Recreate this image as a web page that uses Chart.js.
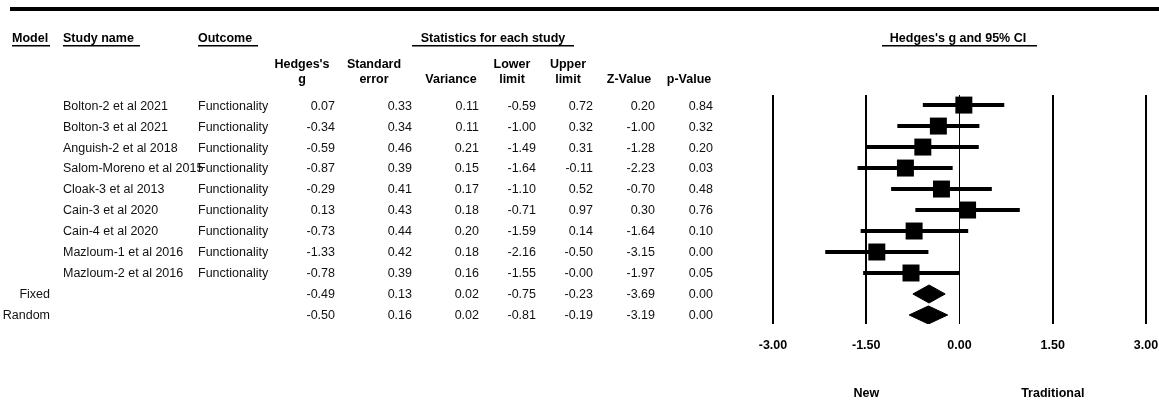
<!DOCTYPE html>
<html>
<head>
<meta charset="utf-8">
<script src="https://cdn.jsdelivr.net/npm/chart.js@4.4.0/dist/chart.umd.min.js"></script>
<style>
  body { margin: 0; background: #fff; }
  #wrap { position: relative; width: 1159px; height: 400px; }
</style>
</head>
<body>
<div id="wrap"><canvas id="forest"></canvas></div>
<script>
// rows 0-8 are studies, 9 and 10 the pooled models
const models = ['', '', '', '', '', '', '', '', '', 'Fixed', 'Random'];
const studies = ['Bolton-2 et al 2021', 'Bolton-3 et al 2021', 'Anguish-2 et al 2018',
  'Salom-Moreno et al 2015', 'Cloak-3 et al 2013', 'Cain-3 et al 2020', 'Cain-4 et al 2020',
  'Mazloum-1 et al 2016', 'Mazloum-2 et al 2016', '', ''];
const outcomes = ['Functionality', 'Functionality', 'Functionality', 'Functionality', 'Functionality',
  'Functionality', 'Functionality', 'Functionality', 'Functionality', '', ''];
const hedgesG = [0.07, -0.34, -0.59, -0.87, -0.29, 0.13, -0.73, -1.33, -0.78, -0.49, -0.50];
const stdErr = [0.33, 0.34, 0.46, 0.39, 0.41, 0.43, 0.44, 0.42, 0.39, 0.13, 0.16];
const variance = [0.11, 0.11, 0.21, 0.15, 0.17, 0.18, 0.20, 0.18, 0.16, 0.02, 0.02];
const lowerLimit = [-0.59, -1.00, -1.49, -1.64, -1.10, -0.71, -1.59, -2.16, -1.55, -0.75, -0.81];
const upperLimit = [0.72, 0.32, 0.31, -0.11, 0.52, 0.97, 0.14, -0.50, -0.00, -0.23, -0.19];
const zValue = [0.20, -1.00, -1.28, -2.23, -0.70, 0.30, -1.64, -3.15, -1.97, -3.69, -3.19];
const pValue = [0.84, 0.32, 0.20, 0.03, 0.48, 0.76, 0.10, 0.00, 0.05, 0.00, 0.00];
const xTicks = [-3, -1.5, 0, 1.5, 3];
const favourLabels = ['New', 'Traditional'];
const favourAt = [-1.5, 1.5];

const nStudies = 9;
const FONT = '"Liberation Sans", Arial, sans-serif';

function fmt(v) {
  return (Object.is(v, -0) ? '-' : '') + v.toFixed(2);
}

// CI whiskers
const ciSets = studies.slice(0, nStudies).map((s, i) => ({
  type: 'line',
  data: [{ x: lowerLimit[i], y: i }, { x: upperLimit[i], y: i }],
  borderColor: '#000',
  borderWidth: 4,
  borderCapStyle: 'butt',
  pointRadius: 0,
  fill: false
}));

// study squares
const squareSet = {
  type: 'line',
  showLine: false,
  data: hedgesG.slice(0, nStudies).map((g, i) => ({ x: g, y: i })),
  pointStyle: 'rect',
  pointRadius: 12,
  pointBackgroundColor: '#000',
  pointBorderWidth: 0
};

// pooled diamonds
const diamondSets = [9, 10].map(i => ({
  type: 'line',
  data: [
    { x: lowerLimit[i], y: i },
    { x: hedgesG[i], y: i - 0.43 },
    { x: upperLimit[i], y: i },
    { x: hedgesG[i], y: i + 0.43 },
    { x: lowerLimit[i], y: i }
  ],
  fill: 'shape',
  backgroundColor: '#000',
  borderColor: '#000',
  borderWidth: 1,
  pointRadius: 0,
  tension: 0
}));

const colRight = [335, 412, 479, 536, 593, 655, 713];
const colHeadX = [302, 374, 451, 512, 568, 629, 689];
const colHead = [['Hedges\'s', 'g'], ['Standard', 'error'], ['', 'Variance'], ['Lower', 'limit'],
  ['Upper', 'limit'], ['', 'Z-Value'], ['', 'p-Value']];
const colVals = [hedgesG, stdErr, variance, lowerLimit, upperLimit, zValue, pValue];

const tablePlugin = {
  id: 'table',
  afterDraw(chart) {
    const ctx = chart.ctx;
    const y = chart.scales.y;
    const x = chart.scales.x;
    ctx.save();
    ctx.fillStyle = '#000';
    ctx.fillRect(10, 7, 1149, 4);

    // group headers
    ctx.font = 'bold 12.5px ' + FONT;
    ctx.textBaseline = 'middle';
    ctx.textAlign = 'left';
    ctx.fillText('Model', 12, 39);
    ctx.fillText('Study name', 63, 39);
    ctx.fillText('Outcome', 198, 39);
    ctx.textAlign = 'center';
    ctx.fillText('Statistics for each study', 493, 39);
    ctx.fillText('Hedges\'s g and 95% CI', 958, 39);
    [[12, 50], [63, 140], [198, 258], [412, 574], [882, 1037]].forEach(u => {
      ctx.fillRect(u[0], 45, u[1] - u[0], 1.5);
    });

    // column headers
    colHead.forEach((h, c) => {
      ctx.fillText(h[0], colHeadX[c], 65);
      ctx.fillText(h[1], colHeadX[c], 80);
    });

    // rows
    ctx.font = '12.5px ' + FONT;
    ctx.fillStyle = '#111';
    studies.forEach((s, i) => {
      const py = y.getPixelForValue(i) + 1;
      ctx.textAlign = 'right';
      if (models[i]) ctx.fillText(models[i], 50, py);
      colVals.forEach((vals, c) => ctx.fillText(fmt(vals[i]), colRight[c], py));
      ctx.textAlign = 'left';
      ctx.fillText(outcomes[i], 198, py);
      ctx.fillText(s, 63, py);
    });

    // favours labels
    ctx.font = 'bold 12.5px ' + FONT;
    ctx.fillStyle = '#000';
    ctx.textAlign = 'center';
    ctx.textBaseline = 'alphabetic';
    favourLabels.forEach((t, k) => ctx.fillText(t, x.getPixelForValue(favourAt[k]), 397));
    ctx.restore();
  }
};

new Chart(document.getElementById('forest'), {
  type: 'line',
  data: { datasets: [...ciSets, squareSet, ...diamondSets] },
  options: {
    responsive: true,
    maintainAspectRatio: false,
    animation: false,
    events: [],
    layout: { padding: { left: 773, right: 13, top: 95, bottom: 0 } },
    plugins: { legend: { display: false }, tooltip: { enabled: false } },
    scales: {
      x: {
        type: 'linear',
        min: -3,
        max: 3,
        afterBuildTicks: s => { s.ticks = xTicks.map(v => ({ value: v })); },
        afterFit: s => {
          s.height = 76;
          s.paddingLeft = 0;
          s.paddingRight = 0;
        },
        ticks: {
          callback: v => Number(v).toFixed(2),
          font: { family: FONT, size: 12.5, weight: 'bold' },
          color: '#000',
          padding: 14,
          maxRotation: 0,
          autoSkip: false
        },
        grid: {
          color: '#000',
          lineWidth: c => (c.tick && c.tick.value === 0 ? 1 : 2),
          drawTicks: false
        },
        border: { display: false }
      },
      y: { type: 'linear', reverse: true, min: -0.48, max: 10.43, display: false }
    }
  },
  plugins: [tablePlugin]
});
</script>
</body>
</html>
